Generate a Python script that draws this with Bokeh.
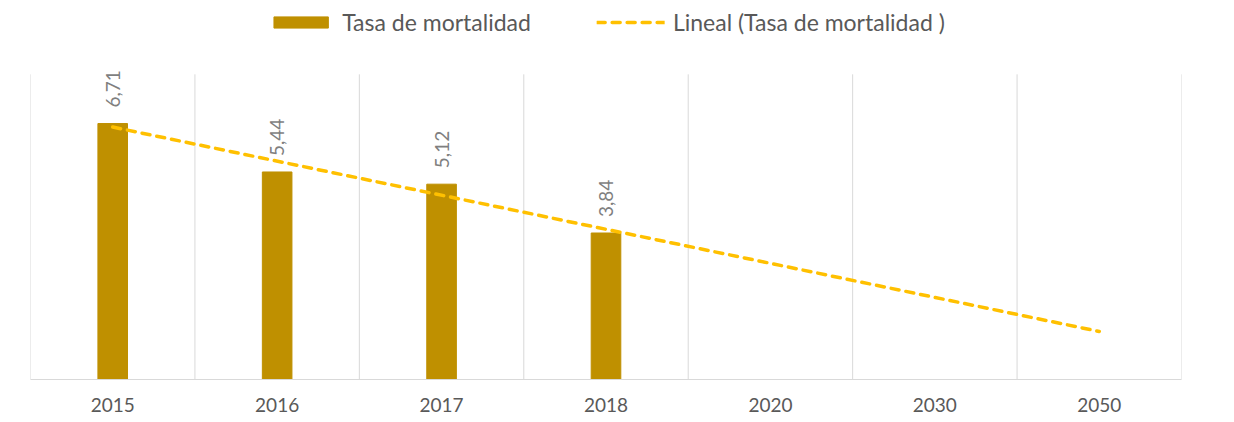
import math
from bokeh.plotting import figure
from bokeh.models import FactorRange, Range1d, Legend, LegendItem
from bokeh.core.properties import value
from bokeh.embed import file_html
from bokeh.resources import INLINE

categories = ["2015", "2016", "2017", "2018", "2020", "2030", "2050"]
bar_categories = ["2015", "2016", "2017", "2018"]
mortality = [6.71, 5.44, 5.12, 3.84]
bar_label = "Tasa de mortalidad"
trend_label = "Lineal (Tasa de mortalidad )"

# linear trend (least squares over category index)
n = len(mortality)
xs = list(range(1, n + 1))
mx = sum(xs) / n
my = sum(mortality) / n
slope = sum((a - mx) * (b - my) for a, b in zip(xs, mortality)) / sum((a - mx) ** 2 for a in xs)
intercept = my - slope * mx
trend_x = [categories[0], categories[-1]]
trend_y = [intercept + slope * 1, intercept + slope * len(categories)]

FONT = "Lato"
Y_TOP = 8

p = figure(width=1226, height=414, output_backend="svg", toolbar_location=None,
           x_range=FactorRange(*categories), y_range=Range1d(0, Y_TOP * 372 / 306),
           y_axis_location=None, min_border_left=30, min_border_right=45,
           min_border_top=8, min_border_bottom=34)
p.outline_line_color = None
p.xgrid.grid_line_color = None
p.ygrid.grid_line_color = None

# vertical separators between categories
bounds = list(range(len(categories) + 1))
p.segment(x0=bounds, x1=bounds, y0=[0] * len(bounds), y1=[Y_TOP] * len(bounds),
          line_color="#D9D9D9", line_width=1)

bars = p.vbar(x=bar_categories, top=mortality, width=0.18, fill_color="#BF9000",
              line_color="#BF9000")
trend = p.line(x=trend_x, y=trend_y, line_color="#FFC000", line_width=3.5,
               line_dash="8 7", line_cap="round")

labels = [f"{v:.2f}".replace(".", ",") for v in mortality]
p.text(x=bar_categories, y=mortality, text=labels, angle=math.pi / 2,
       text_align="left", text_baseline="middle", y_offset=-16,
       text_font=value(FONT), text_font_size="19px", text_color="#7F7F7F")

ax = p.xaxis[0]
ax.axis_line_color = "#D9D9D9"
ax.axis_line_width = 1
ax.major_tick_line_color = None
ax.minor_tick_line_color = None
ax.major_label_text_font = FONT
ax.major_label_text_font_size = "19px"
ax.major_label_text_color = "#595959"
ax.major_label_standoff = 12

legend = Legend(items=[LegendItem(label=bar_label, renderers=[bars]),
                       LegendItem(label=trend_label, renderers=[trend])],
                orientation="horizontal", location="top_center",
                glyph_width=68, glyph_height=14, label_standoff=8, spacing=66,
                padding=0, margin=0, border_line_color=None, background_fill_alpha=0,
                label_text_font=FONT, label_text_font_size="23px",
                label_text_color="#595959")
p.add_layout(legend)

open("out.html", "w").write(file_html(p, INLINE))
